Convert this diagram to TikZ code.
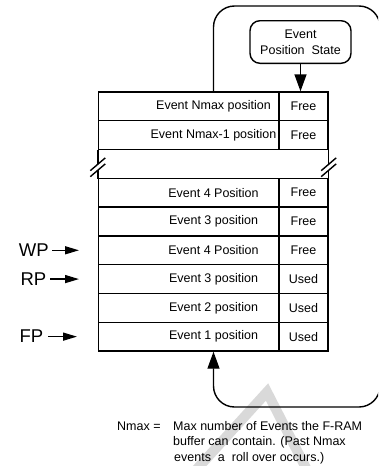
\documentclass[tikz,border=0pt]{standalone}
\usepackage{fontspec}
\setmainfont{Liberation Sans}
\usetikzlibrary{arrows.meta,calc}

\begin{document}
\begin{tikzpicture}[x=1pt,y=-1pt,
  line/.style={line width=1.4pt},
  txt/.style={inner sep=0pt,font=\fontsize{12.5}{15}\selectfont},
  cell/.style={draw,line width=1.4pt,minimum height=28.78pt,inner sep=0pt,
               font=\fontsize{12.5}{15}\selectfont},
  lcell/.style={cell,minimum width=180.5pt},
  rcell/.style={cell,minimum width=49pt},
  ptr/.style={inner sep=0pt,font=\fontsize{18.5}{20}\selectfont},
  bigtip/.style={-{Triangle[length=17pt,width=12pt]}},
  ptrtip/.style={-{Triangle[length=14pt,width=8pt]}},
]
\useasboundingbox (0,0) rectangle (378,466);
\clip (0,0) rectangle (378,466);

% faint background mark
\draw[line width=10pt,black!15,line join=miter] (196,470) -- (267,392) -- (307,470);

% buffer table (row 3 of the grid is the elided gap)
\foreach \n/\k/\t/\s in {1/0/Event Nmax position/Free,
                         2/1/Event Nmax-1 position/Free,
                         3/3/Event 4 Position/Free,
                         4/4/Event 3 position/Free,
                         5/5/Event 4 Position/Free,
                         6/6/Event 3 position/Used,
                         7/7/Event 2 position/Used,
                         8/8/Event 1 position/Used}{
  \node[lcell] (l\n) at (188.75,{92+(\k+0.5)*28.78}) {};
  \node[rcell] (r\n) at (303.5,{92+(\k+0.5)*28.78}) {\s};
  \node[txt] (t\n) at (213.5,{92+(\k+0.5)*28.78}) {\t};
}

% broken side walls of the gap row
\foreach \c in {l2.south west, r2.south east}{
  \draw[line] (\c) -- ($(\c)+(0,14)$);
  \draw[line] ($(\c)+(0,20)$) -- ($(\c)+(0,28.78)$);
  \draw[line] ($(\c)+(-7.5,20.4)$) -- ($(\c)+(7.5,7.6)$);
  \draw[line] ($(\c)+(-7.5,26.4)$) -- ($(\c)+(7.5,13.6)$);
}

% state box feeding the top row
\node[draw,line width=1.4pt,rounded corners=10pt,minimum width=101pt,
      minimum height=42.6pt,inner sep=0pt,align=center,
      font=\fontsize{12.5}{16}\selectfont] (eps) at (300.5,42)
      {Event\\Position\hspace{0.55em}State};
\draw[line,bigtip] (eps.south) -- (eps.south |- r1.north);

% roll-over loop from the top slot back to the first slot
\coordinate (lt) at (380,6);
\coordinate (lb) at (380,407);
\draw[line,bigtip,rounded corners=21pt]
  (t1 |- l1.north) -- (t1 |- lt) -- (lt) -- (lb) -- (t8 |- lb) -- (t8 |- l8.south);

% pointers
\node[ptr,anchor=east] (wp) at (49,250.29) {WP};
\node[ptr,anchor=east] (rp) at (46.5,279.07) {RP};
\node[ptr,anchor=east] (fp) at (43.5,336.63) {FP};
\coordinate (wpend) at (79,250.29);
\coordinate (rpend) at (79,279.07);
\coordinate (fpend) at (77,336.63);
\draw[line,ptrtip] ([xshift=3pt]wp.east) -- (wpend);
\draw[line,ptrtip] ([xshift=3.5pt]rp.east) -- (rpend);
\draw[line,ptrtip] ([xshift=4.5pt]fp.east) -- (fpend);

% legend
\node[txt,anchor=base west] (nm) at (117,430) {Nmax =};
\node[txt,anchor=base west] (d1) at (173,430) {Max number of Events the F-RAM};
\node[txt,anchor=base west] (d2) at (173,445.5) {buffer can contain. (Past Nmax};
\node[txt,anchor=base west] (d3) at (174,461) {events\ \ a\ \ roll over occurs.)};
\end{tikzpicture}
\end{document}
